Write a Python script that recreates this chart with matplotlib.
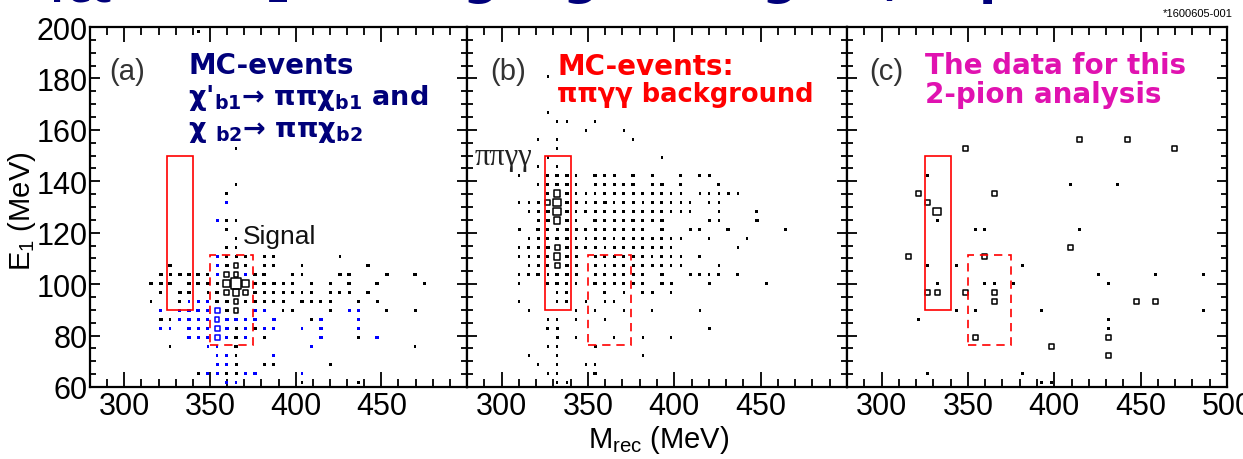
import numpy as np
import matplotlib
matplotlib.use("Agg")
import matplotlib.pyplot as plt
from matplotlib.patches import Rectangle
from matplotlib.ticker import MultipleLocator

# 40 x 40 bins, as in the original 2D histograms
X_EDGES = np.linspace(280, 500, 41)
Y_EDGES = np.linspace(60, 200, 41)

# (x bin, y bin, box size level)
SIGNAL_A_BLACK = [
    (11, 39, 1), (15, 26, 1), (15, 22, 1), (14, 21, 1), (14, 18, 2), (15, 18, 1),
    (14, 17, 2), (15, 16, 1), (14, 15, 1), (15, 15, 1),
    (14, 14, 2), (15, 14, 2), (16, 14, 2), (18, 14, 1), (19, 14, 2), (26, 14, 1),
    (8, 13, 3), (14, 13, 3), (15, 13, 5), (16, 13, 3), (18, 13, 2), (19, 13, 2),
    (22, 13, 1), (29, 13, 3),
    (7, 12, 3), (8, 12, 2), (9, 12, 3), (10, 12, 3), (11, 12, 3), (12, 12, 2),
    (14, 12, 5), (15, 12, 5), (17, 12, 3), (18, 12, 3), (21, 12, 1), (22, 12, 1),
    (26, 12, 3), (27, 12, 3), (31, 12, 3), (34, 12, 3),
    (6, 11, 3), (7, 11, 3), (8, 11, 3), (10, 11, 2), (11, 11, 3), (12, 11, 3),
    (13, 11, 2), (14, 11, 7), (15, 11, 12), (16, 11, 7), (17, 11, 3), (18, 11, 3),
    (19, 11, 3), (20, 11, 2), (21, 11, 1), (23, 11, 3), (25, 11, 1), (27, 11, 3),
    (30, 11, 3), (35, 11, 1),
    (7, 10, 1), (9, 10, 3), (10, 10, 3), (12, 10, 1), (13, 10, 3), (14, 10, 5),
    (15, 10, 7), (16, 10, 5), (17, 10, 3), (18, 10, 2), (19, 10, 2), (20, 10, 2),
    (21, 10, 1), (22, 10, 1), (23, 10, 2), (25, 10, 1), (26, 10, 2), (27, 10, 2),
    (29, 10, 2),
    (6, 9, 1), (9, 9, 1), (13, 9, 3), (14, 9, 3), (15, 9, 5), (16, 9, 3),
    (17, 9, 2), (18, 9, 2), (19, 9, 2), (20, 9, 2), (22, 9, 2), (23, 9, 2),
    (24, 9, 2), (25, 9, 1), (28, 9, 1), (30, 9, 2),
    (14, 8, 3), (15, 8, 5), (20, 8, 1), (21, 8, 1), (25, 8, 1), (31, 8, 2), (34, 8, 2),
    (7, 7, 3), (8, 7, 1), (23, 7, 3),
    (15, 6, 2), (17, 6, 2),
    (15, 5, 3), (18, 5, 1), (28, 5, 1),
    (8, 4, 1), (15, 4, 3), (34, 4, 1),
    (15, 3, 1),
    (15, 2, 2), (18, 2, 1), (19, 2, 2), (25, 2, 1),
    (11, 1, 1), (14, 1, 2), (15, 1, 2),
    (22, 0, 1), (28, 0, 1),
]

SIGNAL_A_BLUE = [
    (14, 20, 1), (13, 18, 2), (13, 14, 2), (13, 13, 2), (13, 12, 2), (16, 12, 3),
    (10, 9, 1), (11, 9, 2), (12, 9, 2),
    (7, 8, 2), (9, 8, 2), (10, 8, 2), (11, 8, 3), (12, 8, 2), (13, 8, 5),
    (17, 8, 2), (18, 8, 1), (27, 8, 2), (28, 8, 1),
    (9, 7, 2), (10, 7, 2), (11, 7, 2), (12, 7, 2), (13, 7, 4), (14, 7, 3),
    (15, 7, 3), (16, 7, 2), (17, 7, 3), (19, 7, 3), (24, 7, 3), (28, 7, 2),
    (7, 6, 2), (8, 6, 1), (10, 6, 2), (11, 6, 2), (12, 6, 2), (13, 6, 5),
    (14, 6, 3), (16, 6, 2), (18, 6, 1), (19, 6, 2), (22, 6, 1), (24, 6, 3), (28, 6, 1),
    (10, 5, 2), (11, 5, 1), (12, 5, 2), (13, 5, 5), (14, 5, 2), (16, 5, 2),
    (24, 5, 3), (30, 5, 3),
    (12, 4, 1), (13, 4, 1), (23, 4, 1),
    (13, 3, 1), (14, 3, 1), (19, 3, 2),
    (13, 2, 2), (14, 2, 1),
    (12, 1, 2), (13, 1, 2), (16, 1, 2), (17, 1, 2), (22, 1, 1),
    (14, 0, 1), (15, 0, 1),
]

PIPIGG_B = [
    (8, 34, 1), (8, 30, 1), (9, 29, 1), (10, 29, 1), (13, 29, 1), (12, 28, 1),
    (16, 28, 1), (7, 27, 1), (9, 27, 1), (17, 27, 1), (9, 26, 1), (8, 25, 1),
    (20, 25, 1), (7, 24, 1), (9, 24, 1),
    (5, 23, 1), (8, 23, 2), (9, 23, 3), (10, 23, 3), (11, 23, 1), (13, 23, 3),
    (14, 23, 2), (15, 23, 2), (17, 23, 3), (19, 23, 2), (22, 23, 2), (24, 23, 2),
    (25, 23, 2),
    (7, 22, 1), (8, 22, 2), (9, 22, 3), (10, 22, 3), (11, 22, 1), (13, 22, 2),
    (14, 22, 2), (15, 22, 2), (16, 22, 2), (17, 22, 3), (19, 22, 2), (20, 22, 3),
    (22, 22, 2), (26, 22, 2),
    (8, 21, 2), (9, 21, 7), (10, 21, 3), (11, 21, 1), (12, 21, 1), (13, 21, 1),
    (14, 21, 2), (15, 21, 2), (16, 21, 2), (17, 21, 2), (18, 21, 2), (19, 21, 2),
    (20, 21, 2), (21, 21, 1), (22, 21, 1), (24, 21, 1), (25, 21, 1), (26, 21, 1),
    (27, 21, 2), (28, 21, 1),
    (5, 20, 1), (6, 20, 1), (7, 20, 2), (8, 20, 5), (9, 20, 9), (10, 20, 3),
    (11, 20, 2), (12, 20, 1), (13, 20, 2), (14, 20, 3), (15, 20, 1), (16, 20, 2),
    (17, 20, 2), (18, 20, 1), (19, 20, 2), (20, 20, 2), (21, 20, 1), (22, 20, 1),
    (23, 20, 1), (25, 20, 1), (26, 20, 1),
    (6, 19, 1), (7, 19, 2), (8, 19, 3), (9, 19, 9), (10, 19, 3), (11, 19, 1),
    (12, 19, 2), (13, 19, 2), (14, 19, 2), (15, 19, 2), (16, 19, 2), (17, 19, 2),
    (18, 19, 2), (19, 19, 2), (20, 19, 2), (21, 19, 1), (22, 19, 1), (23, 19, 1),
    (26, 19, 1), (30, 19, 2),
    (7, 18, 2), (8, 18, 3), (9, 18, 7), (10, 18, 3), (11, 18, 1), (13, 18, 3),
    (14, 18, 2), (15, 18, 2), (16, 18, 2), (17, 18, 3), (18, 18, 2), (19, 18, 2),
    (20, 18, 3), (25, 18, 2), (26, 18, 1), (30, 18, 3),
    (5, 17, 2), (7, 17, 3), (8, 17, 2), (9, 17, 2), (10, 17, 3), (11, 17, 2),
    (12, 17, 2), (13, 17, 2), (14, 17, 2), (15, 17, 2), (16, 17, 2), (17, 17, 2),
    (18, 17, 2), (20, 17, 3), (23, 17, 2), (24, 17, 2), (27, 17, 3), (33, 17, 2),
    (6, 16, 1), (7, 16, 2), (8, 16, 2), (9, 16, 3), (10, 16, 3), (11, 16, 1),
    (12, 16, 1), (13, 16, 2), (14, 16, 2), (15, 16, 1), (16, 16, 2), (17, 16, 2),
    (18, 16, 2), (19, 16, 2), (20, 16, 2), (21, 16, 1), (22, 16, 1), (25, 16, 1),
    (29, 16, 1),
    (5, 15, 1), (6, 15, 2), (7, 15, 2), (8, 15, 3), (9, 15, 5), (10, 15, 3),
    (11, 15, 2), (12, 15, 2), (13, 15, 2), (14, 15, 1), (15, 15, 2), (16, 15, 2),
    (17, 15, 2), (18, 15, 2), (19, 15, 2), (20, 15, 2), (21, 15, 1), (28, 15, 1),
    (5, 14, 1), (6, 14, 1), (7, 14, 2), (8, 14, 2), (9, 14, 7), (10, 14, 3),
    (11, 14, 2), (13, 14, 2), (14, 14, 2), (15, 14, 2), (16, 14, 2), (17, 14, 2),
    (18, 14, 2), (19, 14, 1), (20, 14, 2), (21, 14, 1), (22, 14, 1), (24, 14, 2),
    (6, 13, 1), (7, 13, 2), (8, 13, 2), (9, 13, 5), (10, 13, 3), (11, 13, 2),
    (13, 13, 2), (14, 13, 1), (15, 13, 2), (16, 13, 2), (17, 13, 2), (18, 13, 2),
    (19, 13, 2), (20, 13, 2), (21, 13, 1), (22, 13, 1), (26, 13, 1),
    (5, 12, 1), (6, 12, 2), (7, 12, 3), (8, 12, 1), (9, 12, 3), (10, 12, 3),
    (11, 12, 2), (13, 12, 2), (14, 12, 2), (15, 12, 2), (16, 12, 2), (17, 12, 2),
    (18, 12, 2), (20, 12, 3), (23, 12, 2), (24, 12, 2), (25, 12, 1), (26, 12, 2),
    (28, 12, 2),
    (5, 11, 1), (8, 11, 2), (9, 11, 3), (10, 11, 2), (11, 11, 1), (13, 11, 3),
    (14, 11, 2), (15, 11, 2), (16, 11, 2), (17, 11, 2), (18, 11, 2), (20, 11, 3),
    (21, 11, 2), (25, 11, 2), (31, 11, 2),
    (9, 10, 1), (10, 10, 2), (14, 10, 2), (16, 10, 1), (18, 10, 2), (19, 10, 2),
    (21, 10, 1),
    (5, 9, 1), (9, 9, 1), (10, 9, 2), (12, 9, 1), (14, 9, 1), (15, 9, 1),
    (6, 8, 1), (11, 8, 1), (13, 8, 1), (16, 8, 1), (19, 8, 1), (24, 8, 1),
    (8, 7, 1), (9, 7, 1), (11, 7, 1), (14, 7, 1),
    (8, 6, 2), (9, 6, 2), (25, 6, 2),
    (9, 5, 2), (11, 5, 1), (15, 5, 1), (18, 5, 1), (21, 5, 1),
    (8, 4, 1), (9, 4, 1), (13, 4, 2),
    (6, 3, 1), (9, 3, 1), (18, 3, 1),
    (7, 2, 1), (9, 2, 1), (12, 2, 1), (13, 2, 1),
    (8, 1, 1), (9, 1, 1), (13, 1, 3),
    (9, 0, 1), (10, 0, 1),
]

DATA_C = [
    (12, 26, 5), (24, 27, 5), (29, 27, 5), (34, 26, 5), (8, 23, 2), (7, 21, 5),
    (15, 21, 5), (23, 22, 2), (28, 22, 2), (8, 20, 5), (9, 19, 9), (9, 18, 2),
    (13, 17, 2), (14, 17, 2), (24, 17, 2), (6, 14, 5), (8, 13, 2), (11, 13, 2),
    (14, 14, 5), (18, 13, 2), (23, 15, 5), (26, 12, 2), (32, 12, 2), (37, 12, 2),
    (9, 11, 2), (14, 11, 2), (15, 11, 2), (17, 11, 2), (27, 11, 2), (8, 10, 5),
    (9, 10, 5), (12, 10, 5), (15, 10, 5), (15, 9, 5), (30, 9, 5), (32, 9, 5),
    (11, 8, 2), (13, 8, 2), (20, 8, 2), (37, 8, 2), (7, 7, 2), (27, 7, 2),
    (27, 6, 2), (13, 5, 5), (27, 5, 5), (21, 4, 5), (27, 3, 5), (8, 1, 2),
    (18, 1, 2), (20, 0, 2), (21, 0, 2),
]

# selection windows (MeV)
SIG_BOX = (325, 340, 90, 150)
BKG_BOX = (350, 375, 76.5, 111.5)

NAVY = "#00007a"
MAGENTA = "#e012b0"
NARROW = ["Liberation Sans Narrow", "Liberation Sans", "DejaVu Sans"]

plt.rcParams["font.family"] = NARROW
plt.rcParams["mathtext.fontset"] = "custom"
plt.rcParams["mathtext.rm"] = "Liberation Sans"
plt.rcParams["mathtext.bf"] = "DejaVu Sans:bold"


def draw_boxes(ax, cells, color):
    cells = np.array(cells)
    ix, iy, n = cells[:, 0], cells[:, 1], cells[:, 2]
    x = 0.5 * (X_EDGES[ix] + X_EDGES[ix + 1])
    y = 0.5 * (Y_EDGES[iy] + Y_EDGES[iy + 1])
    side = (1.6 + 0.78 * n) * 0.72
    solid = n <= 3
    ax.scatter(x[solid], y[solid], s=side[solid] ** 2, marker="s",
               color=color, linewidths=0, zorder=3)
    ax.scatter(x[~solid], y[~solid], s=(side[~solid] - 0.5) ** 2, marker="s",
               facecolors="none", edgecolors=color, linewidths=1.1, zorder=3)


def draw_windows(ax):
    x0, x1, y0, y1 = SIG_BOX
    ax.add_patch(Rectangle((x0, y0), x1 - x0, y1 - y0, fill=False,
                           ec="red", lw=1.2, zorder=4))
    x0, x1, y0, y1 = BKG_BOX
    ax.add_patch(Rectangle((x0, y0), x1 - x0, y1 - y0, fill=False,
                           ec="red", lw=1.2, ls=(0, (5, 3.5)), zorder=4))


fig = plt.figure(figsize=(12.43, 4.6), dpi=100, facecolor="white")
W, H = 1243.0, 460.0
lefts = [90, 467, 847]
rights = [467, 847, 1227]
axes = []
for l, r in zip(lefts, rights):
    axes.append(fig.add_axes([l / W, (H - 388) / H, (r - l) / W, 360 / H]))

for k, ax in enumerate(axes):
    ax.set_xlim(280, 500)
    ax.set_ylim(60, 200)
    for s in ax.spines.values():
        s.set_linewidth(1.6)
    ax.xaxis.set_minor_locator(MultipleLocator(10))
    ax.yaxis.set_major_locator(MultipleLocator(20))
    ax.yaxis.set_minor_locator(MultipleLocator(5))
    if k < 2:
        ax.set_xticks([300, 350, 400, 450])
    else:
        ax.set_xticks([300, 350, 400, 450, 500])
    ax.tick_params(which="both", direction="in", top=True, right=True,
                   width=1.3, labelsize=22, pad=3)
    ax.tick_params(axis="x", which="major", length=11)
    ax.tick_params(axis="x", which="minor", length=6)
    ax.tick_params(axis="y", which="major", length=7.5)
    ax.tick_params(axis="y", which="minor", length=4)
    ax.tick_params(axis="y", pad=1.5)
    if k > 0:
        ax.tick_params(axis="y", labelleft=False)
    draw_windows(ax)

ax_a, ax_b, ax_c = axes

draw_boxes(ax_a, SIGNAL_A_BLUE, "#0000ff")
draw_boxes(ax_a, SIGNAL_A_BLACK, "black")
draw_boxes(ax_b, PIPIGG_B, "black")
draw_boxes(ax_c, DATA_C, "black")

for ax, tag, xf in [(ax_a, "(a)", 0.05), (ax_b, "(b)", 0.06), (ax_c, "(c)", 0.058)]:
    ax.text(xf, 0.878, tag, transform=ax.transAxes, fontsize=21,
            color="#333333", va="center", ha="left")

ax_a.text(369, 118.7, "Signal", fontsize=19, va="center", ha="left", color="#111111")
ax_b.text(284.5, 149.5, "ππγγ", fontsize=22, va="center", ha="left",
          family=["Liberation Serif", "DejaVu Serif"], color="#222222")

bold = dict(fontweight="bold", family=["DejaVu Sans"], ha="left", va="baseline")
ax_a.text(0.26, 0.872, "MC-events", transform=ax_a.transAxes, fontsize=20,
          color=NAVY, **bold)
ax_a.text(0.26, 0.786, r"χ'$_{\mathbf{b1}}$→ ππχ$_{\mathbf{b1}}$ and",
          transform=ax_a.transAxes, fontsize=19.5, color=NAVY, **bold)
ax_a.text(0.26, 0.697, r"χ $_{\mathbf{b2}}$→ ππχ$_{\mathbf{b2}}$",
          transform=ax_a.transAxes, fontsize=19.5, color=NAVY, **bold)

ax_b.text(0.237, 0.869, "MC-events:", transform=ax_b.transAxes, fontsize=20,
          color="red", **bold)
ax_b.text(0.237, 0.794, "ππγγ background", transform=ax_b.transAxes,
          fontsize=18.5, color="red", **bold)

ax_c.text(0.205, 0.872, "The data for this", transform=ax_c.transAxes,
          fontsize=20, color=MAGENTA, **bold)
ax_c.text(0.205, 0.792, "2-pion analysis", transform=ax_c.transAxes,
          fontsize=20, color=MAGENTA, **bold)

fig.text(659 / W, 1 - 440 / H, r"M$_{\rm rec}$ (MeV)", fontsize=21,
         ha="center", va="center")
fig.text(22 / W, 1 - 211 / H, r"E$_{\rm 1}$ (MeV)", fontsize=21,
         ha="center", va="center", rotation=90)
fig.text(1233 / W, 1 - 14 / H, "*1600605-001", fontsize=8, ha="right", va="center")

# slide title, cut off by the top edge of the picture as in the original slide
fig.text(0 / W, 1 + 6 / H, r"$\mathbf{M_{rec}}$ vs. E$_{\mathbf{1}}$ : using signal region, top",
         fontsize=36, color=NAVY, ha="left", va="baseline",
         fontweight="bold", family=["DejaVu Sans"])

fig.savefig("out.png", dpi=100, facecolor="white")
